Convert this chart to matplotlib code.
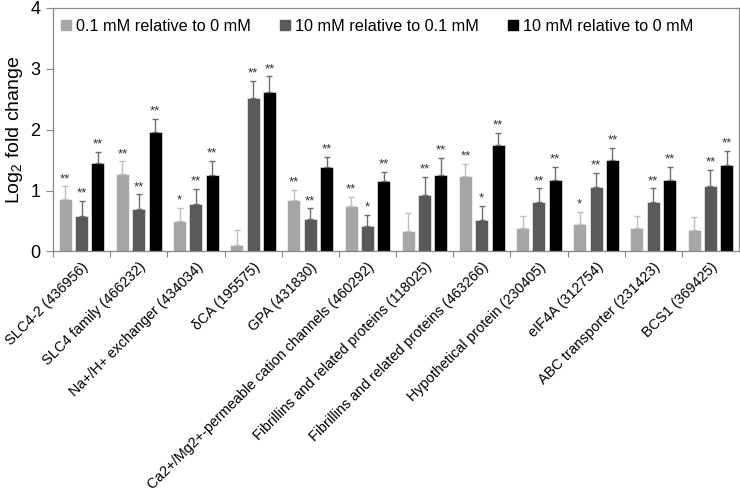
import numpy as np
import matplotlib
matplotlib.use("Agg")
import matplotlib.pyplot as plt
from matplotlib.lines import Line2D

plt.rcParams['font.family'] = ['Liberation Sans', 'DejaVu Sans']
plt.rcParams['mathtext.default'] = 'regular'

genes = ['SLC4-2 (436956)', 'SLC4 family (466232)', 'Na+/H+ exchanger (434034)',
         'δCA (195575)', 'GPA (431830)', 'Ca2+/Mg2+-permeable cation channels (460292)',
         'Fibrillins and related proteins (118025)', 'Fibrillins and related proteins (463266)',
         'Hypothetical protein (230405)', 'eIF4A (312754)', 'ABC transporter (231423)',
         'BCS1 (369425)']
series_names = ['0.1 mM relative to 0 mM', '10 mM relative to 0.1 mM', '10 mM relative to 0 mM']

low_vs_0 = [0.87, 1.27, 0.50, 0.10, 0.85, 0.74, 0.33, 1.24, 0.38, 0.45, 0.38, 0.35]
low_vs_0_err = [0.20, 0.21, 0.22, 0.26, 0.16, 0.16, 0.30, 0.20, 0.20, 0.20, 0.20, 0.22]
high_vs_low = [0.58, 0.70, 0.78, 2.52, 0.53, 0.42, 0.92, 0.52, 0.81, 1.06, 0.81, 1.08]
high_vs_low_err = [0.25, 0.24, 0.25, 0.28, 0.18, 0.18, 0.31, 0.23, 0.23, 0.23, 0.23, 0.26]
high_vs_0 = [1.45, 1.97, 1.26, 2.62, 1.38, 1.16, 1.25, 1.75, 1.18, 1.50, 1.18, 1.42]
high_vs_0_err = [0.19, 0.21, 0.23, 0.26, 0.17, 0.15, 0.29, 0.20, 0.21, 0.20, 0.21, 0.23]

sig_low_vs_0 = ['**', '**', '*', '', '**', '**', '', '**', '', '*', '', '']
sig_high_vs_low = ['**', '**', '**', '**', '**', '*', '**', '*', '**', '**', '**', '**']
sig_high_vs_0 = ['**'] * 12

values = [low_vs_0, high_vs_low, high_vs_0]
errors = [low_vs_0_err, high_vs_low_err, high_vs_0_err]
sigs = [sig_low_vs_0, sig_high_vs_low, sig_high_vs_0]
bar_colors = ['#a6a6a6', '#595959', '#000000']
err_colors = ['#bfbfbf', '#6e6e6e', '#6e6e6e']

fig = plt.figure(figsize=(7.4, 4.94), dpi=100)
ax = fig.add_axes([53 / 740, 1 - 251.5 / 494, 686 / 740, 243.5 / 494])

x = np.arange(len(genes))
width = 0.228
offsets = [-0.286, 0, 0.286]

for vals, errs, sg, col, ecol, off in zip(values, errors, sigs, bar_colors, err_colors, offsets):
    pos = x + 0.5 + off
    ax.bar(pos, vals, width, color=col, edgecolor='white', linewidth=0.4, zorder=2)
    ax.errorbar(pos, vals, yerr=[np.zeros(len(vals)), errs], fmt='none',
                ecolor=ecol, elinewidth=1, capsize=2.5, capthick=1, zorder=3)
    for p, v, e, s in zip(pos, vals, errs, sg):
        if s:
            ax.text(p, v + e + 0.02, s, ha='center', va='bottom', fontsize=9.5,
                    color='#333333')

ax.set_xlim(0, len(genes))
ax.set_ylim(0, 4)
ax.set_yticks([0, 1, 2, 3, 4])
ax.set_yticklabels(['0', '1', '2', '3', '4'], fontsize=13)
ax.set_ylabel('Log$_2$ fold change', fontsize=14, labelpad=4)

ax.set_xticks(x, minor=False)
ax.set_xticklabels([])
ax.set_xticks(x + 0.5, minor=True)
ax.set_xticklabels(genes, minor=True, rotation=45, ha='right', va='top',
                   rotation_mode='anchor', fontsize=10.4)
ax.tick_params(axis='x', which='minor', length=0, pad=6)
ax.tick_params(axis='x', which='major', length=4, color='#888888', direction='out')
ax.tick_params(axis='y', length=5, color='#888888', direction='out', pad=4)

for sp in ax.spines.values():
    sp.set_color('#888888')
    sp.set_linewidth(0.9)

handles = [Line2D([], [], marker='s', linestyle='none', markersize=6.5,
                  markerfacecolor=c, markeredgecolor=c) for c in bar_colors]
ax.legend(handles, series_names, loc='upper left', ncol=3, frameon=False,
          fontsize=11.7, handlelength=0.8, handletextpad=0.22, columnspacing=1.69,
          bbox_to_anchor=(0.0095, 0.955), borderaxespad=0, borderpad=0)

fig.savefig('out.png', dpi=100)
